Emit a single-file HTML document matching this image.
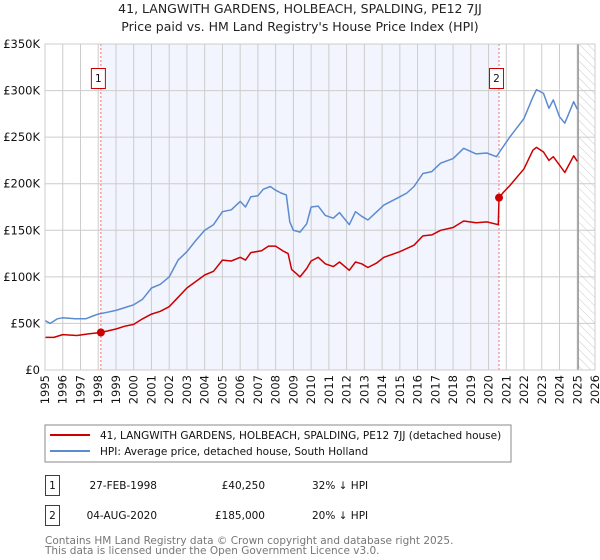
<!DOCTYPE html>
<html><head><meta charset="utf-8"><style>
html,body{margin:0;padding:0;background:#fff;}
svg{display:block;font-family:"DejaVu Sans","Liberation Sans",sans-serif;}
</style></head><body>
<svg id="chart" width="600" height="560" viewBox="0 0 600 560">
<defs>
<pattern id="hatch" width="6" height="6" patternUnits="userSpaceOnUse" patternTransform="rotate(-45)">
<line x1="0" y1="0" x2="0" y2="6" stroke="#ccc" stroke-width="1"/>
</pattern>
</defs>
<text x="300" y="13" text-anchor="middle" font-size="12.5" fill="#222">41, LANGWITH GARDENS, HOLBEACH, SPALDING, PE12 7JJ</text>
<text x="300" y="31" text-anchor="middle" font-size="12.5" fill="#222">Price paid vs. HM Land Registry's House Price Index (HPI)</text>
<g id="plot"></g>
<g>
<rect x="45" y="425" width="466" height="37" fill="#fff" stroke="#888" stroke-width="1"/>
<line x1="50" y1="435" x2="90" y2="435" stroke="#cc0000" stroke-width="2"/>
<text x="100" y="439" font-size="10.5" fill="#111">41, LANGWITH GARDENS, HOLBEACH, SPALDING, PE12 7JJ (detached house)</text>
<line x1="50" y1="451" x2="90" y2="451" stroke="#5b8bd0" stroke-width="2"/>
<text x="100" y="455" font-size="10.5" fill="#111">HPI: Average price, detached house, South Holland</text>
</g>
<g font-size="10.5" fill="#111">
<rect x="45.5" y="475.5" width="14" height="20" fill="#fff" stroke="#cc0000"/>
<text x="52.5" y="489" text-anchor="middle">1</text>
<text x="157" y="489" text-anchor="end">27-FEB-1998</text>
<text x="265" y="489" text-anchor="end">£40,250</text>
<text x="312" y="489">32% ↓ HPI</text>
<rect x="45.5" y="505.5" width="14" height="20" fill="#fff" stroke="#cc0000"/>
<text x="52.5" y="519" text-anchor="middle">2</text>
<text x="157" y="519" text-anchor="end">04-AUG-2020</text>
<text x="265" y="519" text-anchor="end">£185,000</text>
<text x="312" y="519">20% ↓ HPI</text>
</g>
<text x="45" y="544" font-size="10.5" fill="#777">Contains HM Land Registry data © Crown copyright and database right 2025.</text>
<text x="45" y="554" font-size="10.5" fill="#777">This data is licensed under the Open Government Licence v3.0.</text>
</svg>
<script>
const hpiYears=[1995,1995.3,1995.7,1996,1996.7,1997.3,1997.7,1998,1998.5,1999,1999.5,2000,2000.5,2001,2001.5,2002,2002.5,2003,2003.5,2004,2004.5,2005,2005.5,2006,2006.3,2006.6,2007,2007.3,2007.7,2008,2008.3,2008.6,2008.8,2009,2009.37,2009.75,2010,2010.4,2010.8,2011.25,2011.6,2012.15,2012.5,2012.85,2013.2,2013.7,2014.1,2015,2015.4,2015.8,2016.3,2016.8,2017.3,2018,2018.6,2019.3,2019.9,2020.45,2020.65,2021.2,2022,2022.5,2022.7,2023.1,2023.4,2023.65,2024,2024.3,2024.8,2025];
const hpiValues=[53,50,55,56,55,55,58,60,62,64,67,70,76,88,92,100,118,127,139,150,156,170,172,181,175,186,187,194,197,193,190,188,159,150,148,157,175,176,166,163,169,156,170,165,161,170,177,186,190,197,211,213,222,227,238,232,233,229,235,250,270,293,301,297,281,290,272,265,288,280];
const priceYears=[1995,1995.5,1996,1996.8,1997.5,1998.15,1999,1999.5,2000,2000.5,2001,2001.5,2002,2002.5,2003,2003.5,2004,2004.5,2005,2005.5,2006,2006.3,2006.6,2007.2,2007.6,2008,2008.4,2008.7,2008.9,2009.2,2009.37,2009.75,2010,2010.4,2010.8,2011.25,2011.6,2012.15,2012.5,2012.85,2013.2,2013.7,2014.1,2015,2015.8,2016.3,2016.8,2017.3,2018,2018.6,2019.3,2019.9,2020.55,2020.59,2020.85,2021.2,2022,2022.5,2022.7,2023.1,2023.4,2023.65,2024,2024.3,2024.8,2025];
const priceValues=[35,35,38,37,39,40.25,44,47,49,55,60,63,68,78,88,95,102,106,118,117,121,118,126,128,133,133,128,125,108,103,100,109,117,121,114,111,116,107,116,114,110,115,121,127,134,144,145,150,153,160,158,159,156,185,191,198,216,236,239,234,225,229,220,212,230,224];
const saleYears=[1998.15,2020.59];
const saleValues=[40.25,185];
const saleLabels=["1","2"];
const yTicks=[0,50,100,150,200,250,300,350];
const yTickLabels=["£0","£50K","£100K","£150K","£200K","£250K","£300K","£350K"];
const xTicks=[1995,1996,1997,1998,1999,2000,2001,2002,2003,2004,2005,2006,2007,2008,2009,2010,2011,2012,2013,2014,2015,2016,2017,2018,2019,2020,2021,2022,2023,2024,2025,2026];

const X0=45,X1=595,Y0=370,Y1=44,YR0=1995,YR1=2026,VMAX=350;
const xs=y=>X0+(y-YR0)/(YR1-YR0)*(X1-X0);
const ys=v=>Y0-v/VMAX*(Y0-Y1);
const NS="http://www.w3.org/2000/svg";
const plot=document.getElementById('plot');
function mk(tag,attrs,parent){const e=document.createElementNS(NS,tag);for(const k in attrs)e.setAttribute(k,attrs[k]);(parent||plot).appendChild(e);return e;}

let r=mk('rect',{x:xs(saleYears[0]),y:Y1,width:xs(saleYears[1])-xs(saleYears[0]),height:Y0-Y1,fill:'#f2f5fd'});


const hx=xs(2025.05);
r=mk('rect',{x:hx,y:Y1,width:X1-hx,height:Y0-Y1,fill:'url(#hatch)'});


xTicks.forEach(t=>{
  const g=mk('line',{x1:xs(t),x2:xs(t),y1:Y1,y2:Y0,stroke:'#ccc','stroke-width':1});
  
  
  const px=xs(t)+4, py=375;
  const tx=mk('text',{x:px,y:py,'text-anchor':'end','font-size':11.5,fill:'#111',transform:'rotate(-90 '+px+' '+py+')'});
  tx.textContent=t;
  
  
});
yTicks.forEach((t,i)=>{
  const g=mk('line',{x1:X0,x2:X1,y1:ys(t),y2:ys(t),stroke:'#ccc','stroke-width':1});
  
  
  const tx=mk('text',{x:40,y:ys(t)+4,'text-anchor':'end','font-size':11.5,fill:'#111'});
  tx.textContent=yTickLabels[i];
  
  
});
const nl=mk('line',{x1:hx,x2:hx,y1:Y1,y2:Y0,stroke:'#999','stroke-width':1.5});


saleYears.forEach((s,i)=>{
  const l=mk('line',{x1:xs(s),x2:xs(s),y1:Y1,y2:Y0,stroke:'#f07070','stroke-width':1,'stroke-dasharray':'2,2'});
  
  
  const b=mk('rect',{x:xs(s)-9.5,y:68.5,width:14,height:20,fill:'#fff',stroke:'#cc0000'});
  
  
  const t=mk('text',{x:xs(s)-2.5,y:82,'text-anchor':'middle','font-size':10.5,fill:'#111'});
  t.textContent=saleLabels[i];
  
  
});
function pathOf(xa,va){return xa.map((y,i)=>(i?'L':'M')+xs(y).toFixed(1)+','+ys(va[i]).toFixed(1)).join('');}
const hp=mk('path',{d:pathOf(hpiYears,hpiValues),fill:'none',stroke:'#5b8bd0','stroke-width':1.5,'stroke-linejoin':'round'});


const pp=mk('path',{d:pathOf(priceYears,priceValues),fill:'none',stroke:'#cc0000','stroke-width':1.5,'stroke-linejoin':'round'});


saleYears.forEach((s,i)=>{
  const c=mk('circle',{cx:xs(s),cy:ys(saleValues[i]),r:4,fill:'#cc0000'});
  
  
});
const bd=mk('rect',{x:X0,y:Y1,width:X1-X0,height:Y0-Y1,fill:'none',stroke:'#ccc'});


</script>
</body></html>
